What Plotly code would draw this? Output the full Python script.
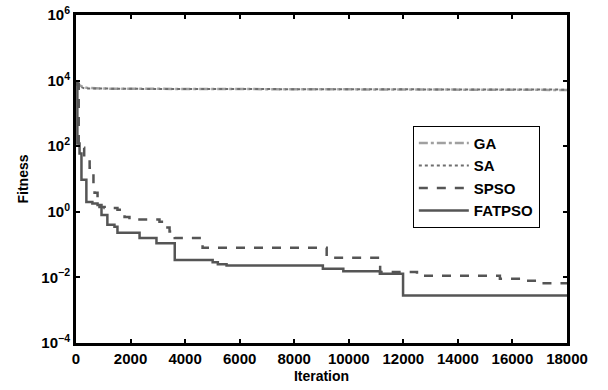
import plotly.graph_objects as go

# ---- data ----
ga_iter = [0, 150, 400, 1000, 3000, 6000, 9000, 12000, 15000, 18000]
ga_fit = [10000, 7000, 6000, 5700, 5600, 5500, 5400, 5300, 5300, 5200]

sa_iter = [0, 300, 2000, 6000, 10000, 14000, 18000]
sa_fit = [7500, 5800, 5600, 5500, 5400, 5300, 5300]

spso_iter = [0, 100, 300, 500, 600, 640, 680, 790, 860, 1050, 1520, 1780, 1960,
             3060, 3250, 3430, 3620, 4640, 9190, 11150, 12500, 15540, 16280,
             17010, 18000]
spso_fit = [8000, 90, 40, 22, 15, 6.6, 3.8, 2.3, 1.4, 1.3, 1.15, 0.7, 0.58,
            0.5, 0.33, 0.25, 0.16, 0.08, 0.04, 0.0145, 0.0112, 0.0091, 0.0079,
            0.0066, 0.0066]

fat_iter = [0, 50, 130, 200, 380, 600, 790, 935, 1150, 1410, 1520, 2330, 2950,
            3620, 5010, 5200, 5520, 9050, 9800, 11140, 11990, 18000]
fat_fit = [9000, 120, 60, 9.5, 2.0, 1.8, 1.6, 0.8, 0.4, 0.35, 0.23, 0.16, 0.11,
           0.034, 0.029, 0.025, 0.023, 0.0185, 0.0155, 0.013, 0.0028, 0.0028]

x_ticks = [0, 2000, 4000, 6000, 8000, 10000, 12000, 14000, 16000, 18000]
x_labels = ["0", "2000", "4000", "6000", "8000", "10000", "12000", "14000", "16000", "18000"]
y_ticks = [1e-4, 1e-2, 1e0, 1e2, 1e4, 1e6]
y_labels = ["10<sup>−4</sup>", "10<sup>−2</sup>", "10<sup>0</sup>",
            "10<sup>2</sup>", "10<sup>4</sup>", "10<sup>6</sup>"]

FONT = "Liberation Sans, Arial, sans-serif"

fig = go.Figure()
fig.add_trace(go.Scatter(x=ga_iter, y=ga_fit, name="GA", mode="lines",
                         line=dict(color="#a0a0a0", width=2.5, dash="dashdot")))
fig.add_trace(go.Scatter(x=sa_iter, y=sa_fit, name="SA", mode="lines",
                         line=dict(color="#6e6e6e", width=2, dash="dot")))
fig.add_trace(go.Scatter(x=spso_iter, y=spso_fit, name="SPSO", mode="lines",
                         line=dict(color="#555555", width=2.5, dash="dash", shape="hv")))
fig.add_trace(go.Scatter(x=fat_iter, y=fat_fit, name="FATPSO", mode="lines",
                         line=dict(color="#555555", width=2.5, shape="hv")))

fig.update_layout(
    width=608, height=390,
    margin=dict(l=76, r=41, t=15, b=47),
    paper_bgcolor="white", plot_bgcolor="white",
    font=dict(family=FONT, color="black"),
    showlegend=True,
    legend=dict(x=0.686, y=0.662, xanchor="left", yanchor="top",
                bgcolor="white", bordercolor="black", borderwidth=1,
                font=dict(family=FONT, size=15, weight="bold", color="black"),
                itemwidth=50, tracegroupgap=0),
)
fig.update_xaxes(
    range=[0, 18000], tickmode="array", tickvals=x_ticks, ticktext=x_labels,
    automargin=False,
    showgrid=False, zeroline=False,
    showline=True, linecolor="black", linewidth=3, mirror="ticks",
    ticks="inside", ticklen=4, tickwidth=2, tickcolor="black",
    tickfont=dict(family=FONT, size=15, weight="bold", color="black"),
    title=dict(text="Iteration", standoff=6,
               font=dict(family=FONT, size=14, weight="bold", color="black")),
)
fig.update_yaxes(
    type="log", range=[-4, 6], tickmode="array", tickvals=y_ticks, ticktext=y_labels,
    automargin=False,
    showgrid=False, zeroline=False,
    showline=True, linecolor="black", linewidth=3, mirror="ticks",
    ticks="inside", ticklen=4, tickwidth=2, tickcolor="black",
    tickfont=dict(family=FONT, size=15, weight="bold", color="black"),
    title=dict(text="Fitness", standoff=10,
               font=dict(family=FONT, size=14, weight="bold", color="black")),
)

fig.write_html("out.html")
